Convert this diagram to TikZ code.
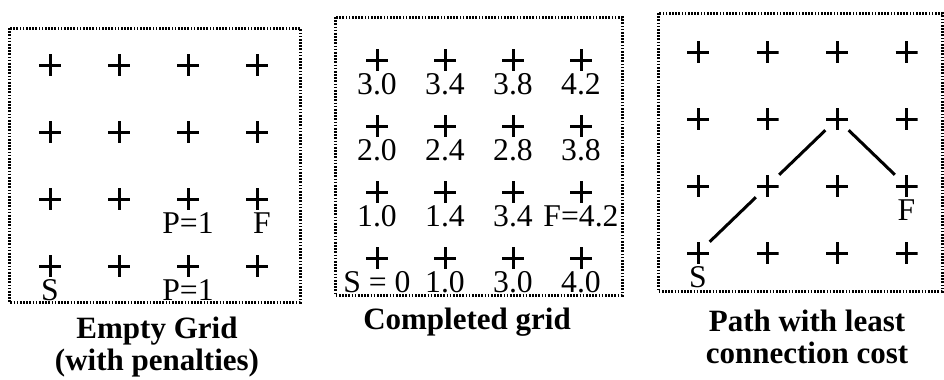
\documentclass[tikz,border=0pt]{standalone}
\usepackage{fontspec}
\setmainfont{Liberation Serif}
\usepackage{tikz}
\usetikzlibrary{positioning}
\tikzset{plusmark/.style={inner sep=0pt, minimum size=6.6pt,
  path picture={\draw[line width=0.9pt] (path picture bounding box.north) -- (path picture bounding box.south)
    (path picture bounding box.west) -- (path picture bounding box.east);}},
  gridbox/.style={line width=0.9pt, dash pattern=on 0.5pt off 0.45pt},
  marklabel/.style={inner sep=0pt, text height=6.2pt, text depth=0pt, font=\fontsize{9.5}{11}\selectfont},
  captext/.style={align=center, font=\bfseries\fontsize{9.3}{9.6}\selectfont},
  costpath/.style={line width=0.9pt}}

\begin{document}
\begin{tikzpicture}[x=0.3pt, y=-0.3pt]
\useasboundingbox (0,0) rectangle (944,379);
% Left: empty grid with penalties
\begin{scope}[shift={(50,65)}]
\draw[gridbox] (-41,-37) rectangle (250,237);
\foreach \r in {1,...,4}
  \foreach \c in {1,...,4}
    \node[plusmark] (e\r\c) at ({(\c-1)*69},{(\r-1)*67}) {};
\node[marklabel, below=0.3pt of e33] (pen1) {P=1};
\node[marklabel, below=0.3pt of e34, xshift=1.5pt] (fin1) {F};
\node[marklabel, below=0.3pt of e41] (st1) {S};
\node[marklabel, below=0.3pt of e43] (pen2) {P=1};
\node[captext] (cap1) at (107,282) {Empty Grid\\(with penalties)};
\end{scope}
% Middle: grid with costs filled in
\begin{scope}[shift={(377,60)}]
\draw[gridbox] (-42,-43) rectangle (245,235);
\foreach \r in {1,...,4}
  \foreach \c in {1,...,4}
    \node[plusmark] (c\r\c) at ({(\c-1)*68},{(\r-1)*66}) {};
\foreach \c/\v in {1/3.0, 2/3.4, 3/3.8, 4/4.2}
  \node[marklabel, below=0.3pt of c1\c] (v1\c) {\v};
\foreach \c/\v in {1/2.0, 2/2.4, 3/2.8, 4/3.8}
  \node[marklabel, below=0.3pt of c2\c] (v2\c) {\v};
\foreach \c/\v in {1/1.0, 2/1.4, 3/3.4, 4/F=4.2}
  \node[marklabel, below=0.3pt of c3\c] (v3\c) {\v};
\foreach \c/\v in {1/S = 0, 2/1.0, 3/3.0, 4/4.0}
  \node[marklabel, below=0.3pt of c4\c] (v4\c) {\v};
\node[captext] (cap2) at (90,262) {Completed grid};
\end{scope}
% Right: cheapest route from S to F
\begin{scope}[shift={(698,52)}]
\draw[gridbox] (-40,-39) rectangle (244,239);
\foreach \r in {1,...,4}
  \foreach \c in {1,...,4}
    \node[plusmark] (p\r\c) at ({(\c-1)*69.5},{(\r-1)*67}) {};
\node[marklabel, below=0.3pt of p34] (fin3) {F};
\node[marklabel, below=0.3pt of p41] (st3) {S};
\draw[costpath] (p41) -- (p32) -- (p23) -- (p34);
\node[captext] (cap3) at (109,285) {Path with least\\connection cost};
\end{scope}
\end{tikzpicture}
\end{document}
